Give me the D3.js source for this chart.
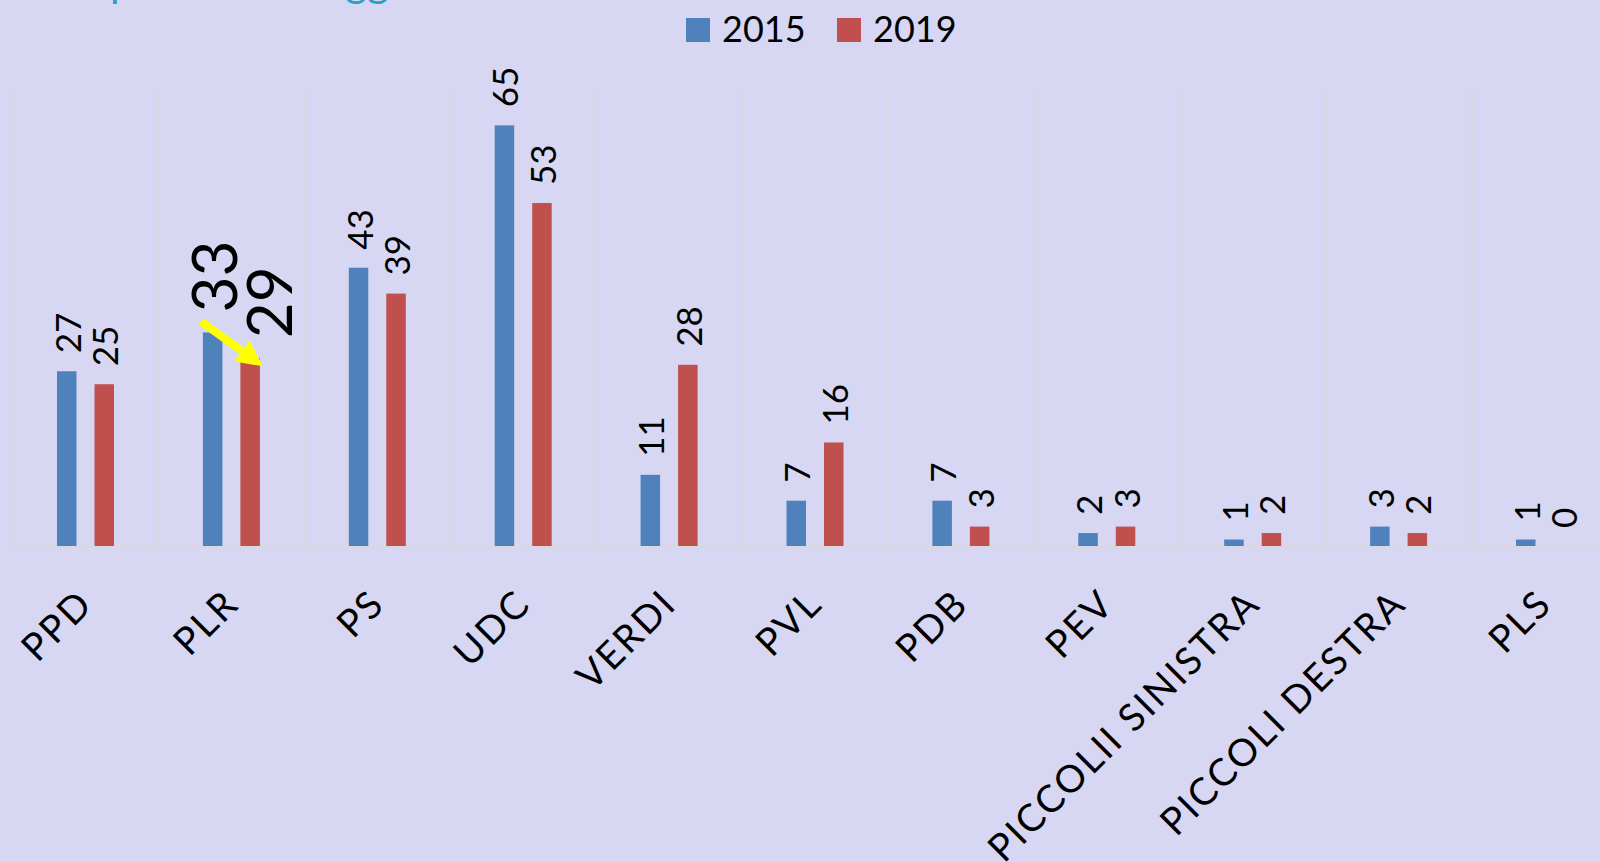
<!DOCTYPE html>
<html>
<head>
<meta charset="utf-8">
<script src="https://cdn.jsdelivr.net/npm/d3@7"></script>
<style>
  html, body { margin: 0; padding: 0; background: #d7d7f3; overflow: hidden; }
  svg { display: block; font-family: Lato, "Noto Sans", sans-serif; }
</style>
</head>
<body>
<svg id="chart" width="1600" height="862"></svg>
<script>
// data
var categories = ["PPD", "PLR", "PS", "UDC", "VERDI", "PVL", "PDB", "PEV", "PICCOLII SINISTRA", "PICCOLI DESTRA", "PLS"]
var series = ["2015", "2019"]
var seats2015 = [27, 33, 43, 65, 11, 7, 7, 2, 1, 3, 1]
var seats2019 = [25, 29, 39, 53, 28, 16, 3, 3, 2, 2, 0]
var titleText = "Ripartizione seggi"

var colors = { "2015": "#4f81bd", "2019": "#c0504d" }
var highlight = "PLR"   // the party with the big labels and the yellow arrow

drawChart()

function drawChart() {
    var svg = d3.select("#chart")
    var plotLeft = 13, baseline = 546, plotTop = 93
    var step = 145.9

    // cut-off title, only the descenders show
    svg.append("text")
        .attr("x", 74)
        .attr("y", -3)
        .style("font-size", "42px")
        .style("fill", "#2aa0c9")
        .text(titleText)

    var rows = categories.map(function(c, i) {
        return { cat: c, "2015": seats2015[i], "2019": seats2019[i] }
    })

    var x = d3.scaleBand()
        .domain(categories)
        .range([plotLeft, plotLeft + step * categories.length])

    var x1 = d3.scaleBand()
        .domain(series)
        .range([44, 101])
        .paddingInner(0.48)

    var y = d3.scaleLinear()
        .domain([0, 70])
        .range([baseline, plotTop])

    //vertical gridlines
    svg.append("g")
        .selectAll("line")
        .data(d3.range(categories.length + 1))
        .enter().append("line")
        .attr("x1", function(i) { return plotLeft + i * x.step() })
        .attr("x2", function(i) { return plotLeft + i * x.step() })
        .attr("y1", plotTop)
        .attr("y2", baseline)
        .style("stroke", "#d9d9d9")
        .style("stroke-width", 1.5)

    //baseline
    svg.append("line")
        .attr("x1", plotLeft)
        .attr("x2", 1600)
        .attr("y1", baseline + 1)
        .attr("y2", baseline + 1)
        .style("stroke", "#d9d9d9")
        .style("stroke-width", 2)

    //bars
    var groups = svg.append("g")
        .selectAll("g")
        .data(rows)
        .enter().append("g")
        .attr("transform", function(d) { return "translate(" + x(d.cat) + ",0)" })

    function pairs(d) {
        return series.map(function(s) { return { cat: d.cat, key: s, value: d[s] } })
    }

    groups.selectAll("rect")
        .data(pairs)
        .enter().append("rect")
        .attr("x", function(d) { return x1(d.key) })
        .attr("y", function(d) { return y(d.value) })
        .attr("width", x1.bandwidth())
        .attr("height", function(d) { return baseline - y(d.value) })
        .style("fill", function(d) { return colors[d.key] })

    //value labels, rotated
    groups.selectAll("text")
        .data(pairs)
        .enter().append("text")
        .attr("transform", function(d) {
            var big = d.cat == highlight
            var cx = x1(d.key) + x1.bandwidth() / 2 + (big && d.key == "2019" ? 18 : 0)
            var cy = y(d.value) - (big ? 20 : 18)
            return "translate(" + cx + "," + cy + ") rotate(-90)"
        })
        .attr("text-anchor", "start")
        .attr("dominant-baseline", "central")
        .style("font-size", function(d) { return d.cat == highlight ? "62px" : "35px" })
        .style("fill", "#000")
        .text(function(d) { return d.value })

    //category labels
    svg.append("g")
        .selectAll("text")
        .data(categories)
        .enter().append("text")
        .attr("transform", function(d) {
            return "translate(" + (x(d) + x.bandwidth() / 2 + 9) + ",606) rotate(-45)"
        })
        .attr("text-anchor", "end")
        .style("font-size", "38px")
        .style("letter-spacing", "2.2px")
        .style("fill", "#000")
        .text(function(d) { return d })

    //yellow arrow
    var hx = x(highlight)
    var hi = categories.indexOf(highlight)
    var ax1 = hx + x1("2015") - 2, ay1 = y(seats2015[hi]) - 11
    var ax2 = hx + x1("2019") + x1.bandwidth() + 3, ay2 = y(seats2019[hi]) + 8
    var ang = Math.atan2(ay2 - ay1, ax2 - ax1)
    var headLen = 26, headW = 13
    var bx = ax2 - headLen * Math.cos(ang), by = ay2 - headLen * Math.sin(ang)
    svg.append("line")
        .attr("x1", ax1).attr("y1", ay1)
        .attr("x2", bx).attr("y2", by)
        .style("stroke", "#ffff00")
        .style("stroke-width", 8)
    svg.append("path")
        .attr("d", "M" + ax2 + "," + ay2 +
            "L" + (bx + headW * Math.sin(ang)) + "," + (by - headW * Math.cos(ang)) +
            "L" + (bx - headW * Math.sin(ang)) + "," + (by + headW * Math.cos(ang)) + "Z")
        .style("fill", "#ffff00")

    //legend
    var legend = svg.append("g")
    var legendX = [686, 837]
    series.forEach(function(s, i) {
        legend.append("rect")
            .attr("x", legendX[i]).attr("y", 18)
            .attr("width", 24).attr("height", 24)
            .style("fill", colors[s])
        legend.append("text")
            .attr("x", legendX[i] + 36).attr("y", 42)
            .style("font-size", "36px")
            .style("fill", "#000")
            .text(s)
    })
}
</script>
</body>
</html>
